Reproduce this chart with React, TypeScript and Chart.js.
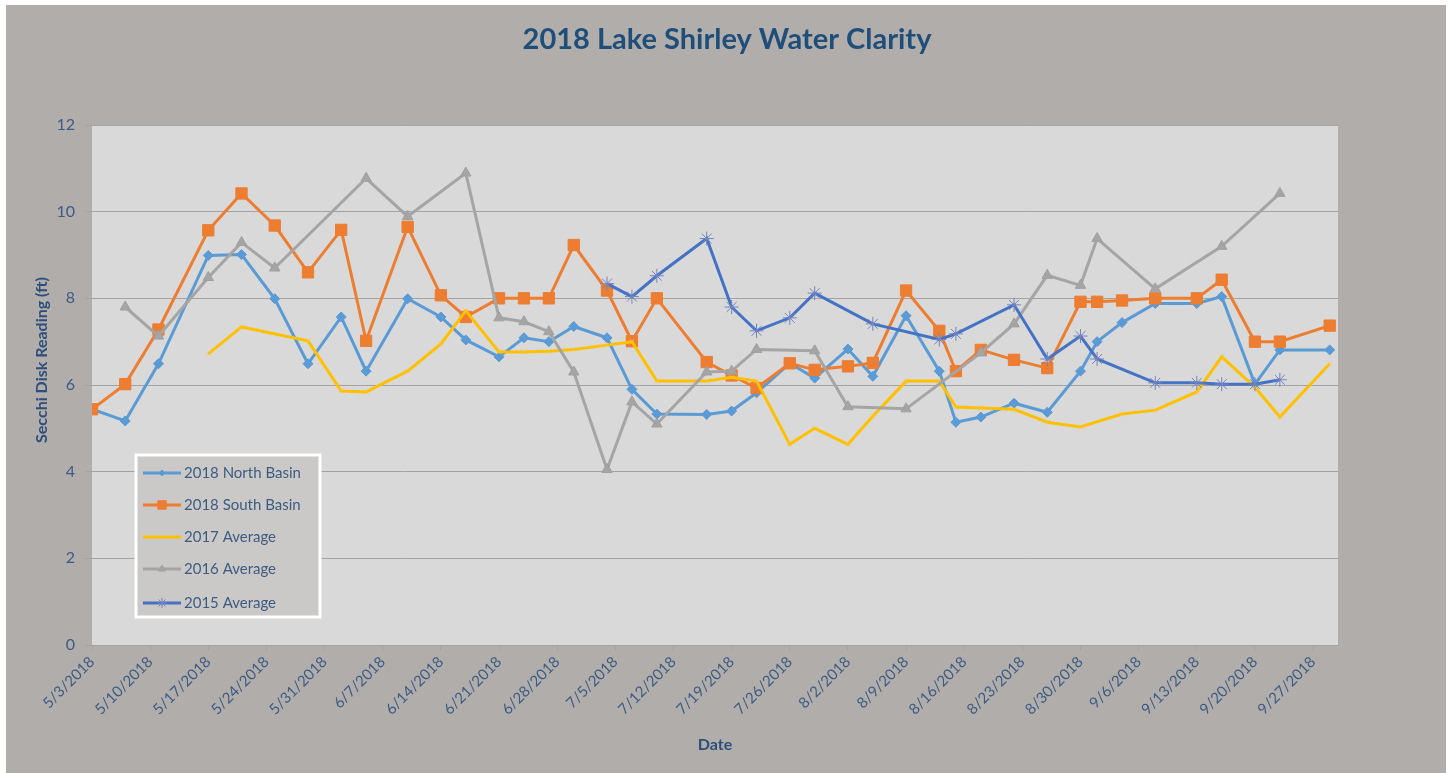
import React, { useEffect, useRef } from "react";
import { Chart, registerables } from "chart.js";
import { drawPoint } from "chart.js/helpers";

Chart.register(...registerables);

// ---------- DATA ----------
const AXIS_START = "5/3";
const AXIS_END = "9/30";
const TICK_STEP_DAYS = 7;
const yTicks = [0, 2, 4, 6, 8, 10, 12];

const dates2018 = [
  "5/3", "5/7", "5/11", "5/17", "5/21", "5/25", "5/29", "6/2", "6/5", "6/10",
  "6/14", "6/17", "6/21", "6/24", "6/27", "6/30", "7/4", "7/7", "7/10", "7/16",
  "7/19", "7/22", "7/26", "7/29", "8/2", "8/5", "8/9", "8/13", "8/15", "8/18",
  "8/22", "8/26", "8/30", "9/1", "9/4", "9/8", "9/13", "9/16", "9/20", "9/23", "9/29",
];
const northBasin2018 = [
  5.44, 5.17, 6.49, 8.99, 9.01, 7.99, 6.49, 7.57, 6.32, 7.99,
  7.57, 7.04, 6.65, 7.09, 7.0, 7.35, 7.09, 5.9, 5.33, 5.32,
  5.4, 5.82, 6.5, 6.16, 6.83, 6.2, 7.6, 6.32, 5.14, 5.26,
  5.58, 5.37, 6.32, 7.0, 7.44, 7.88, 7.88, 8.04, 6.02, 6.81, 6.81,
];
const southBasin2018 = [
  5.44, 6.02, 7.28, 9.57, 10.42, 9.68, 8.6, 9.58, 7.02, 9.65,
  8.07, 7.57, 8.0, 8.0, 8.0, 9.23, 8.18, 7.01, 8.0, 6.53,
  6.22, 5.93, 6.5, 6.35, 6.43, 6.51, 8.18, 7.25, 6.32, 6.81,
  6.58, 6.39, 7.92, 7.92, 7.95, 8.0, 8.0, 8.43, 7.0, 7.0, 7.37,
];

const dates2017 = [
  "5/17", "5/21", "5/29", "6/2", "6/5", "6/10", "6/14", "6/17", "6/21", "6/24",
  "6/27", "6/30", "7/4", "7/7", "7/10", "7/16", "7/19", "7/22", "7/26", "7/29",
  "8/2", "8/5", "8/9", "8/13", "8/15", "8/18", "8/22", "8/26", "8/30", "9/4",
  "9/8", "9/13", "9/16", "9/20", "9/23", "9/29",
];
const average2017 = [
  6.72, 7.34, 7.02, 5.86, 5.84, 6.32, 6.95, 7.71, 6.76, 6.76,
  6.78, 6.82, 6.92, 7.0, 6.09, 6.09, 6.18, 6.09, 4.63, 5.0,
  4.63, 5.28, 6.09, 6.09, 5.49, 5.47, 5.44, 5.14, 5.03, 5.33,
  5.42, 5.84, 6.65, 5.95, 5.26, 6.49,
];

const dates2016 = [
  "5/7", "5/11", "5/17", "5/21", "5/25", "6/5", "6/10", "6/17", "6/21", "6/24",
  "6/27", "6/30", "7/4", "7/7", "7/10", "7/16", "7/19", "7/22", "7/29", "8/2",
  "8/9", "8/18", "8/22", "8/26", "8/30", "9/1", "9/8", "9/16", "9/23",
];
const average2016 = [
  7.8, 7.13, 8.48, 9.29, 8.7, 10.77, 9.89, 10.89, 7.55, 7.46,
  7.23, 6.3, 4.05, 5.61, 5.1, 6.3, 6.32, 6.82, 6.79, 5.5,
  5.45, 6.74, 7.41, 8.53, 8.3, 9.38, 8.22, 9.2, 10.42,
];

const dates2015 = [
  "7/4", "7/7", "7/10", "7/16", "7/19", "7/22", "7/26", "7/29", "8/5", "8/13",
  "8/15", "8/22", "8/26", "8/30", "9/1", "9/8", "9/13", "9/16", "9/20", "9/23",
];
const average2015 = [
  8.34, 8.04, 8.52, 9.38, 7.8, 7.25, 7.55, 8.12, 7.41, 7.05,
  7.18, 7.85, 6.6, 7.13, 6.6, 6.05, 6.05, 6.02, 6.02, 6.12,
];

const seriesNames = ["2018 North Basin", "2018 South Basin", "2017 Average", "2016 Average", "2015 Average"];
const chartTitle = "2018 Lake Shirley Water Clarity";
const xTitle = "Date";
const yTitle = "Secchi Disk Reading (ft)";

// ---------- HELPERS ----------
const DAY_MS = 86400000;
function parseMD(md: string): number {
  const [m, d] = md.split("/").map(Number);
  return Date.UTC(2018, m - 1, d);
}
function dayOffset(md: string): number {
  return Math.round((parseMD(md) - parseMD(AXIS_START)) / DAY_MS);
}
function dayLabel(n: number): string {
  const dt = new Date(parseMD(AXIS_START) + n * DAY_MS);
  return `${dt.getUTCMonth() + 1}/${dt.getUTCDate()}/2018`;
}
function toPoints(dates: string[], vals: number[]) {
  return dates.map((d, i) => ({ x: dayOffset(d), y: vals[i] }));
}

const OUTER_BG = "#b1adab";
const PLOT_BG = "#d9d9d9";
const GRID = "#a3a3a3";
const TEXT = "#3e5b82";
const TITLE = "#1f4e79";
const AXIS_TITLE = "#2d4f7a";
const FONT = "Lato, 'Open Sans', sans-serif";

const styles = [
  { color: "#5b9bd5", pointStyle: "rectRot", radius: 5, pointBorder: "#5b9bd5", pointBW: 1 },
  { color: "#ed7d31", pointStyle: "rect", radius: 8, pointBorder: "#ed7d31", pointBW: 1 },
  { color: "#ffc000", pointStyle: "crossRot", radius: 4, pointBorder: "rgba(240,200,80,0.55)", pointBW: 1 },
  { color: "#a5a5a5", pointStyle: "triangle", radius: 6, pointBorder: "#a0a0a0", pointBW: 1 },
  { color: "#4472c4", pointStyle: "star", radius: 7, pointBorder: "#7484c0", pointBW: 1 },
];

const bgPlugin = {
  id: "bgPlugin",
  beforeDraw(chart: any) {
    const { ctx, chartArea } = chart;
    ctx.save();
    ctx.fillStyle = OUTER_BG;
    ctx.fillRect(0, 0, chart.width, chart.height);
    ctx.fillStyle = PLOT_BG;
    ctx.fillRect(chartArea.left, chartArea.top, chartArea.right - chartArea.left, chartArea.bottom - chartArea.top);
    ctx.restore();
  },
};

const overlayPlugin = {
  id: "overlayPlugin",
  afterDraw(chart: any) {
    const { ctx, chartArea } = chart;
    // chart title
    ctx.save();
    ctx.font = `bold 29px ${FONT}`;
    ctx.fillStyle = TITLE;
    ctx.textAlign = "center";
    ctx.textBaseline = "middle";
    ctx.fillText(chartTitle, 721, 35);
    ctx.restore();

    // y axis title
    ctx.save();
    ctx.translate(36, 355);
    ctx.rotate(-Math.PI / 2);
    ctx.font = `bold 16px ${FONT}`;
    ctx.fillStyle = AXIS_TITLE;
    ctx.textAlign = "center";
    ctx.textBaseline = "middle";
    ctx.fillText(yTitle, 0, 0);
    ctx.restore();

    // legend box
    const bx = chartArea.left + 44;
    const by = chartArea.top + 330;
    const bw = 184;
    const bh = 162;
    ctx.save();
    ctx.fillStyle = "#cbc9c8";
    ctx.fillRect(bx, by, bw, bh);
    ctx.strokeStyle = "#ffffff";
    ctx.lineWidth = 3;
    ctx.strokeRect(bx, by, bw, bh);
    const rowYs = [18, 50, 82, 114, 148];
    chart.data.datasets.forEach((ds: any, i: number) => {
      const st = styles[i];
      const y = by + rowYs[i];
      const x0 = bx + 7;
      const x1 = bx + 45;
      ctx.strokeStyle = st.color;
      ctx.lineWidth = 3;
      ctx.beginPath();
      ctx.moveTo(x0, y);
      ctx.lineTo(x1, y);
      ctx.stroke();
      if (i !== 2) {
        ctx.fillStyle = st.color;
        ctx.strokeStyle = st.pointBorder;
        ctx.lineWidth = st.pointBW;
        drawPoint(ctx, { pointStyle: st.pointStyle, radius: Math.max(3, st.radius - 2), borderWidth: st.pointBW, rotation: 0 } as any, (x0 + x1) / 2, y);
      }
      ctx.fillStyle = TEXT;
      ctx.font = `15px ${FONT}`;
      ctx.textAlign = "left";
      ctx.textBaseline = "middle";
      ctx.fillText(ds.label, x1 + 3, y);
    });
    ctx.restore();
  },
};

export default function App() {
  const ref = useRef<HTMLCanvasElement | null>(null);

  useEffect(() => {
    document.body.style.margin = "0";
    const canvas = ref.current;
    if (!canvas) return;
    const seriesData = [
      toPoints(dates2018, northBasin2018),
      toPoints(dates2018, southBasin2018),
      toPoints(dates2017, average2017),
      toPoints(dates2016, average2016),
      toPoints(dates2015, average2015),
    ];
    const axisMax = dayOffset(AXIS_END);
    const chart = new Chart(canvas, {
      type: "line",
      data: {
        datasets: seriesData.map((pts, i) => ({
          label: seriesNames[i],
          data: pts,
          borderColor: styles[i].color,
          backgroundColor: styles[i].color,
          borderWidth: 3,
          pointStyle: styles[i].pointStyle as any,
          pointRadius: styles[i].radius,
          pointBackgroundColor: styles[i].color,
          pointBorderColor: styles[i].pointBorder,
          pointBorderWidth: styles[i].pointBW,
          tension: 0,
          order: 4 - i,
        })),
      },
      options: {
        animation: false,
        responsive: false,
        layout: { padding: { left: 0, right: 108, top: 120, bottom: 0 } },
        plugins: {
          legend: { display: false },
          tooltip: { enabled: false },
          title: { display: false },
        },
        scales: {
          x: {
            type: "linear",
            min: 0,
            max: axisMax,
            afterFit(scale: any) {
              scale.height = 128;
            },
            afterBuildTicks(scale: any) {
              const t: any[] = [];
              for (let v = 0; v <= axisMax; v += TICK_STEP_DAYS) t.push({ value: v });
              scale.ticks = t;
            },
            ticks: {
              stepSize: TICK_STEP_DAYS,
              autoSkip: false,
              minRotation: 45,
              maxRotation: 45,
              color: TEXT,
              font: { family: FONT, size: 15 },
              padding: 2,
              callback: (v: any) => dayLabel(Number(v)),
            },
            grid: {
              drawOnChartArea: false,
              drawTicks: true,
              tickLength: 6,
              color: GRID,
            },
            border: { display: true, color: GRID, width: 1 },
            title: {
              display: true,
              text: xTitle,
              color: AXIS_TITLE,
              font: { family: FONT, size: 16, weight: "bold" },
              padding: { top: 0, bottom: 18.5 },
            },
          },
          y: {
            min: 0,
            max: 12,
            afterFit(scale: any) {
              scale.width = 86;
            },
            afterBuildTicks(scale: any) {
              scale.ticks = yTicks.map((v) => ({ value: v }));
            },
            ticks: {
              color: TEXT,
              font: { family: FONT, size: 16 },
              padding: 10,
            },
            grid: {
              color: GRID,
              tickLength: 7,
              lineWidth: 1,
            },
            border: { display: false },
          },
        },
      },
      plugins: [bgPlugin, overlayPlugin],
    });
    return () => chart.destroy();
  }, []);

  return (
    <div style={{ position: "absolute", left: 6, top: 5, width: 1440, height: 768 }}>
      <canvas ref={ref} width={1440} height={768} style={{ display: "block" }} />
    </div>
  );
}
